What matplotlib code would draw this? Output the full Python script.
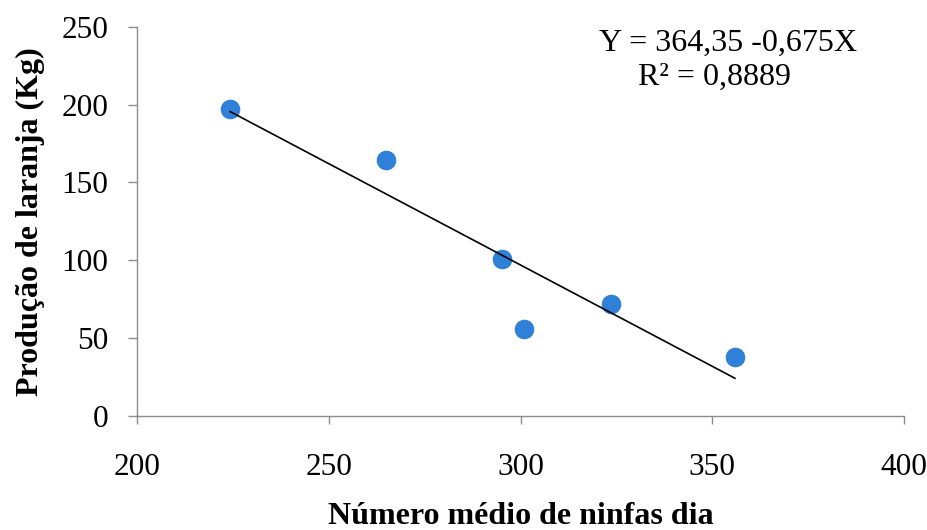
import numpy as np
import matplotlib
matplotlib.use("Agg")
import matplotlib.pyplot as plt

# Mean number of nymphs per day vs. orange yield
ninfas = [224.3, 264.8, 295.3, 300.8, 323.5, 355.9]
producao = [197.1, 164.3, 100.8, 56.0, 71.8, 37.7]

x_ticks = [200, 250, 300, 350, 400]
y_ticks = [0, 50, 100, 150, 200, 250]

equation_text = "Y = 364,35 -0,675X"
r2_text = "R² = 0,8889"

plt.rcParams['font.family'] = ['Liberation Serif', 'DejaVu Serif']

fig = plt.figure(figsize=(9.28, 5.30), dpi=100)
ax = fig.add_axes([0.1476, 0.2157, 0.9742 - 0.1476, 0.949 - 0.2157])

ax.scatter(ninfas, producao, s=185, color='#2f80d8', edgecolors='#2a76cc',
           linewidths=0.5, zorder=3)

# least-squares trend line across the data range
coef = np.polyfit(ninfas, producao, 1)
xs = np.array([min(ninfas), max(ninfas)])
ax.plot(xs, np.polyval(coef, xs), color='black', linewidth=1.2, zorder=4)

ax.set_xlim(x_ticks[0], x_ticks[-1])
ax.set_ylim(y_ticks[0], y_ticks[-1])
ax.set_xticks(x_ticks)
ax.set_yticks(y_ticks)

for side in ('top', 'right'):
    ax.spines[side].set_visible(False)
for side in ('left', 'bottom'):
    ax.spines[side].set_color('#8c8c8c')
    ax.spines[side].set_linewidth(1.0)

ax.tick_params(axis='y', direction='out', length=6.5, width=1.0, color='#8c8c8c',
               labelsize=22.5, pad=14)
ax.tick_params(axis='x', direction='out', length=6, width=1.0, color='#8c8c8c',
               labelsize=22.5, pad=21)

ax.set_xlabel("Número médio de ninfas dia", fontsize=23, fontweight='bold', labelpad=14)
ax.set_ylabel("Produção de laranja (Kg)", fontsize=23, fontweight='bold', labelpad=12)

fig.text(728 / 928, 1 - 43 / 530, equation_text, fontsize=23, ha='center', va='center')
fig.text(715 / 928, 1 - 77 / 530, r2_text, fontsize=23, ha='center', va='center')

fig.savefig("out.png", dpi=100, facecolor='white')
